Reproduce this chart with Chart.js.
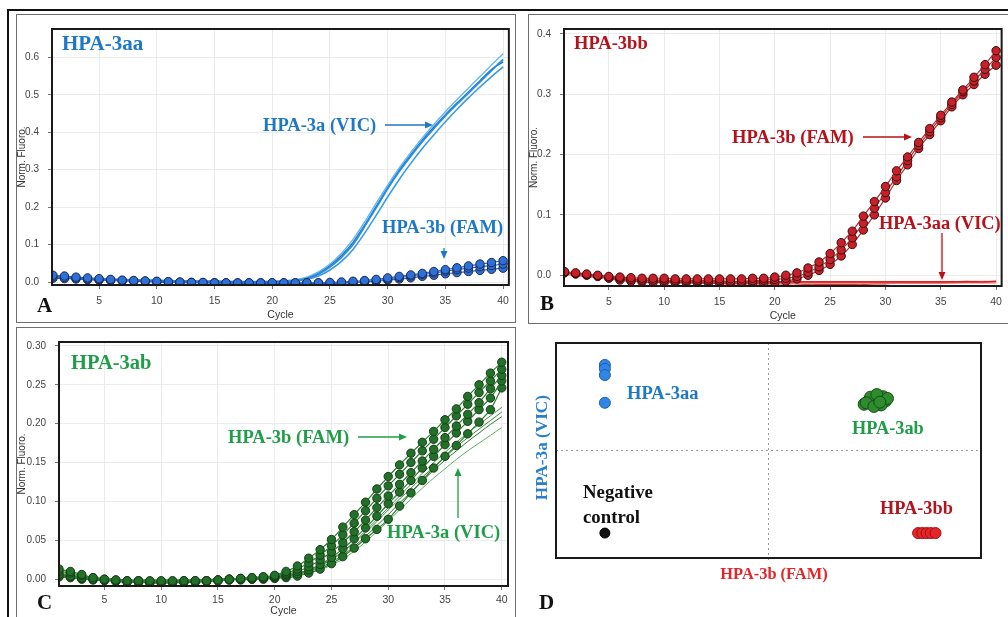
<!DOCTYPE html>
<html>
<head>
<meta charset="utf-8">
<script src="https://cdn.jsdelivr.net/npm/chart.js@4.4.0/dist/chart.umd.min.js"></script>
<style>
  body { margin: 0; background: #fff; }
  #page { position: relative; width: 1008px; height: 617px; overflow: hidden; background: #fff; }
  .box { position: absolute; box-sizing: border-box; }
  .wrap { position: absolute; }
  .lbl { position: absolute; white-space: nowrap; font-family: "Liberation Serif", "Times New Roman", serif; font-weight: bold; line-height: 1; }
  svg { position: absolute; left: 0; top: 0; }
</style>
</head>
<body>
<div id="page">
  <div class="box" style="left:7px;top:9px;width:1010px;height:620px;border:2px solid #111;"></div>
  <div class="box" style="left:16px;top:14px;width:500px;height:309px;border:1.5px solid #6e6e6e;"></div>
  <div class="box" style="left:528px;top:14px;width:490px;height:310px;border:1.5px solid #6e6e6e;"></div>
  <div class="box" style="left:16px;top:327px;width:500px;height:300px;border:1.5px solid #6e6e6e;"></div>

  <div class="wrap" style="left:16px;top:14px;width:499px;height:308px;"><canvas id="chartA"></canvas></div>
  <div class="wrap" style="left:528px;top:14px;width:480px;height:309px;"><canvas id="chartB"></canvas></div>
  <div class="wrap" style="left:16px;top:327px;width:499px;height:290px;"><canvas id="chartC"></canvas></div>
  <div class="wrap" style="left:528px;top:327px;width:480px;height:290px;"><canvas id="chartD"></canvas></div>

  <svg width="1008" height="617" id="arrows"></svg>
</div>

<script>
// ---- datos: ciclos y ejes ----
const cycles = [1,2,3,4,5,6,7,8,9,10,11,12,13,14,15,16,17,18,19,20,21,22,23,24,25,26,27,28,29,30,31,32,33,34,35,36,37,38,39,40];
const cycleTicks = [5,10,15,20,25,30,35,40];
const ticksA = [0,0.1,0.2,0.3,0.4,0.5,0.6];
const ticksB = [0,0.1,0.2,0.3,0.4];
const ticksC = [0,0.05,0.10,0.15,0.20,0.25,0.30];

// ---- panel A: HPA-3aa ----
const aVic1 = [0.014,0.012,0.011,0.009,0.008,0.007,0.006,0.005,0.004,0.004,0.003,0.003,0.002,0.002,0.002,0.001,0.001,0.001,0.001,0.001,0.002,0.004,0.009,0.021,0.040,0.066,0.100,0.148,0.198,0.249,0.295,0.336,0.375,0.410,0.444,0.475,0.505,0.535,0.565,0.595];
const aVic2 = [0.016,0.014,0.012,0.010,0.009,0.008,0.007,0.006,0.005,0.004,0.004,0.003,0.003,0.002,0.002,0.002,0.001,0.001,0.001,0.002,0.003,0.006,0.013,0.027,0.048,0.077,0.114,0.160,0.210,0.259,0.305,0.346,0.385,0.421,0.455,0.487,0.518,0.549,0.580,0.610];
const aVic3 = [0.012,0.011,0.009,0.008,0.007,0.006,0.005,0.004,0.004,0.003,0.003,0.002,0.002,0.001,0.001,0.001,0.000,0.000,0.000,0.000,0.001,0.003,0.007,0.016,0.032,0.055,0.087,0.130,0.178,0.227,0.274,0.317,0.357,0.393,0.428,0.461,0.492,0.521,0.549,0.575];
const aVic4 = [0.015,0.013,0.011,0.010,0.008,0.007,0.006,0.005,0.005,0.004,0.003,0.003,0.002,0.002,0.001,0.001,0.001,0.001,0.001,0.001,0.002,0.005,0.011,0.024,0.044,0.071,0.106,0.152,0.202,0.252,0.299,0.340,0.379,0.414,0.447,0.478,0.508,0.538,0.568,0.588];
const aFam1 = [0.018,0.016,0.013,0.011,0.009,0.007,0.005,0.004,0.003,0.002,0.001,0.000,-0.001,-0.001,-0.002,-0.002,-0.002,-0.002,-0.002,-0.002,-0.002,-0.002,-0.002,-0.002,-0.001,0.000,0.002,0.004,0.007,0.011,0.015,0.019,0.023,0.028,0.033,0.038,0.043,0.048,0.052,0.057];
const aFam2 = [0.014,0.012,0.010,0.008,0.007,0.005,0.004,0.003,0.002,0.001,0.000,-0.001,-0.001,-0.002,-0.002,-0.003,-0.003,-0.003,-0.003,-0.003,-0.003,-0.003,-0.003,-0.003,-0.003,-0.002,-0.001,0.001,0.004,0.008,0.012,0.016,0.020,0.024,0.029,0.033,0.037,0.041,0.044,0.048];
const aFam3 = [0.010,0.009,0.008,0.006,0.005,0.004,0.003,0.002,0.001,0.000,-0.001,-0.001,-0.002,-0.002,-0.003,-0.003,-0.003,-0.003,-0.003,-0.003,-0.003,-0.004,-0.004,-0.004,-0.004,-0.003,-0.002,0.000,0.002,0.005,0.008,0.011,0.015,0.018,0.022,0.025,0.028,0.031,0.034,0.037];

// ---- panel B: HPA-3bb ----
const bFam1 = [0.006,0.004,0.002,0.000,-0.002,-0.003,-0.004,-0.005,-0.005,-0.005,-0.006,-0.006,-0.006,-0.006,-0.006,-0.006,-0.006,-0.005,-0.005,-0.003,0.000,0.004,0.012,0.022,0.036,0.054,0.073,0.098,0.122,0.147,0.173,0.196,0.220,0.243,0.265,0.287,0.307,0.328,0.349,0.372];
const bFam2 = [0.005,0.003,0.001,-0.001,-0.003,-0.005,-0.007,-0.008,-0.008,-0.008,-0.009,-0.009,-0.009,-0.009,-0.009,-0.010,-0.010,-0.009,-0.008,-0.007,-0.005,-0.002,0.005,0.014,0.026,0.042,0.062,0.086,0.111,0.137,0.163,0.190,0.215,0.238,0.261,0.283,0.304,0.322,0.341,0.361];
const bFam3 = [0.004,0.002,0.000,-0.002,-0.005,-0.008,-0.010,-0.011,-0.012,-0.012,-0.012,-0.012,-0.012,-0.013,-0.013,-0.013,-0.013,-0.013,-0.013,-0.012,-0.010,-0.006,0.000,0.008,0.018,0.032,0.051,0.075,0.100,0.128,0.157,0.183,0.210,0.233,0.256,0.279,0.299,0.316,0.333,0.348];
const bVic1 = [0.004,0.002,0.000,-0.002,-0.004,-0.006,-0.007,-0.008,-0.009,-0.010,-0.010,-0.010,-0.011,-0.011,-0.011,-0.011,-0.011,-0.011,-0.011,-0.011,-0.011,-0.011,-0.011,-0.011,-0.011,-0.011,-0.011,-0.011,-0.011,-0.011,-0.011,-0.011,-0.011,-0.011,-0.011,-0.011,-0.011,-0.011,-0.011,-0.010];
const bVic2 = [0.003,0.001,-0.001,-0.003,-0.005,-0.007,-0.008,-0.009,-0.010,-0.011,-0.011,-0.012,-0.012,-0.012,-0.012,-0.012,-0.012,-0.012,-0.012,-0.012,-0.012,-0.012,-0.013,-0.013,-0.013,-0.013,-0.013,-0.013,-0.012,-0.012,-0.012,-0.012,-0.012,-0.012,-0.012,-0.012,-0.011,-0.011,-0.011,-0.011];
const bVic3 = [0.002,0.000,-0.002,-0.004,-0.006,-0.008,-0.009,-0.010,-0.011,-0.012,-0.012,-0.013,-0.013,-0.013,-0.014,-0.014,-0.014,-0.014,-0.014,-0.014,-0.014,-0.014,-0.015,-0.015,-0.015,-0.015,-0.015,-0.015,-0.014,-0.014,-0.013,-0.013,-0.013,-0.013,-0.013,-0.012,-0.012,-0.012,-0.012,-0.012];

// ---- panel C: HPA-3ab ----
const cFam1 = [0.013,0.010,0.006,0.002,0.000,-0.001,-0.002,-0.002,-0.002,-0.002,-0.002,-0.002,-0.002,-0.002,-0.001,0.000,0.001,0.002,0.003,0.005,0.010,0.017,0.027,0.038,0.051,0.067,0.083,0.099,0.116,0.132,0.147,0.162,0.176,0.190,0.205,0.219,0.235,0.250,0.265,0.279];
const cFam2 = [0.010,0.008,0.005,0.002,0.000,-0.001,-0.002,-0.002,-0.003,-0.003,-0.003,-0.002,-0.002,-0.002,-0.001,0.000,0.001,0.002,0.003,0.004,0.008,0.013,0.021,0.031,0.043,0.057,0.072,0.088,0.104,0.120,0.135,0.150,0.165,0.180,0.195,0.210,0.225,0.240,0.255,0.270];
const cFam3 = [0.006,0.004,0.002,0.000,-0.001,-0.002,-0.003,-0.003,-0.003,-0.003,-0.003,-0.003,-0.003,-0.002,-0.001,0.000,0.000,0.001,0.002,0.003,0.006,0.010,0.016,0.025,0.035,0.047,0.061,0.076,0.092,0.107,0.122,0.137,0.152,0.167,0.182,0.197,0.212,0.227,0.245,0.262];
const cFam4 = [0.004,0.003,0.001,0.000,-0.001,-0.002,-0.003,-0.004,-0.004,-0.004,-0.004,-0.004,-0.003,-0.003,-0.002,-0.001,0.000,0.000,0.001,0.002,0.004,0.007,0.012,0.019,0.028,0.039,0.052,0.066,0.081,0.097,0.112,0.127,0.143,0.158,0.173,0.188,0.203,0.218,0.233,0.255];
const cFam5 = [0.003,0.002,0.000,-0.001,-0.002,-0.003,-0.004,-0.004,-0.005,-0.005,-0.005,-0.004,-0.004,-0.003,-0.002,-0.001,-0.001,0.000,0.000,0.001,0.002,0.004,0.008,0.013,0.020,0.029,0.040,0.052,0.064,0.077,0.094,0.111,0.127,0.143,0.158,0.172,0.187,0.202,0.218,0.246];
const cVic1 = [0.008,0.006,0.004,0.002,0.001,0.000,-0.001,-0.001,-0.001,-0.001,-0.001,-0.001,-0.001,-0.001,0.000,0.000,0.001,0.001,0.002,0.003,0.005,0.008,0.012,0.018,0.026,0.036,0.048,0.062,0.077,0.092,0.107,0.122,0.136,0.150,0.163,0.176,0.188,0.199,0.210,0.221];
const cVic2 = [0.006,0.005,0.003,0.001,0.000,-0.001,-0.001,-0.002,-0.002,-0.002,-0.002,-0.002,-0.001,-0.001,0.000,0.000,0.000,0.001,0.002,0.003,0.004,0.006,0.010,0.015,0.022,0.031,0.042,0.055,0.069,0.083,0.098,0.112,0.126,0.140,0.153,0.165,0.177,0.188,0.199,0.209];
const cVic3 = [0.005,0.004,0.002,0.001,0.000,-0.001,-0.002,-0.002,-0.002,-0.002,-0.002,-0.002,-0.002,-0.001,-0.001,0.000,0.000,0.001,0.001,0.002,0.003,0.005,0.008,0.012,0.018,0.026,0.036,0.048,0.061,0.075,0.089,0.103,0.117,0.130,0.142,0.154,0.165,0.175,0.185,0.195];
const cVic4 = [0.007,0.005,0.003,0.002,0.001,0.000,-0.001,-0.001,-0.001,-0.001,-0.001,-0.001,-0.001,0.000,0.000,0.001,0.001,0.002,0.002,0.003,0.005,0.007,0.011,0.017,0.025,0.035,0.047,0.060,0.074,0.089,0.103,0.117,0.131,0.144,0.157,0.170,0.182,0.193,0.204,0.215];

// ---- panel D: discriminación alélica (escala relativa 0-1) ----
const dAaX = [0.115,0.115,0.115,0.115];
const dAaY = [0.898,0.880,0.851,0.722];
const dAbX = [0.725,0.735,0.745,0.750,0.760,0.770,0.775,0.765,0.740,0.755,0.780,0.730,0.748,0.762];
const dAbY = [0.715,0.730,0.720,0.740,0.735,0.750,0.730,0.712,0.748,0.760,0.742,0.722,0.705,0.725];
const dBbX = [0.852,0.862,0.872,0.882,0.893];
const dBbY = [0.116,0.116,0.116,0.116,0.116];
const dNegX = [0.115];
const dNegY = [0.116];

// ===== helpers =====
const TICKFONT = "'Liberation Sans Narrow', 'Liberation Sans', sans-serif";

const frame = {
  id: 'frame',
  afterDatasetsDraw(chart) {
    const a = chart.chartArea, ctx = chart.ctx;
    ctx.save();
    ctx.strokeStyle = '#1a1a1a';
    ctx.lineWidth = 2;
    ctx.strokeRect(a.left, a.top, a.right - a.left, a.bottom - a.top);
    ctx.restore();
  }
};

function curve(data, color, width) {
  return { data, borderColor: color, borderWidth: width, pointRadius: 0, tension: 0.3, fill: false };
}
function dots(data, fill, edge, line) {
  return { data, borderColor: line, borderWidth: 1.2, pointRadius: 4.2, pointBackgroundColor: fill,
           pointBorderColor: edge, pointBorderWidth: 1, tension: 0.3, fill: false };
}

// gráfico de amplificación (ciclo vs fluorescencia normalizada)
function pcrChart(id, sets, o) {
  return new Chart(document.getElementById(id), {
    type: 'line',
    data: { labels: cycles, datasets: sets },
    plugins: [frame],
    options: {
      responsive: true, maintainAspectRatio: false, animation: false,
      layout: { padding: { top: o.top, right: o.right, left: 0, bottom: 0 } },
      plugins: { legend: { display: false }, tooltip: { enabled: false } },
      scales: {
        x: {
          type: 'linear', min: o.xmin, max: o.xmax,
          afterBuildTicks: s => { s.ticks = cycleTicks.map(v => ({ value: v })); },
          afterFit: s => { s.height = o.xh; },
          grid: { color: '#ececec', tickColor: '#777', tickLength: 4 },
          border: { display: false },
          ticks: { color: '#444', font: { family: TICKFONT, size: 10.5 }, padding: o.xpad, maxRotation: 0 },
          title: { display: true, text: 'Cycle', color: '#333', font: { family: TICKFONT, size: 10.5 }, padding: { top: 0, bottom: o.tpad } }
        },
        y: {
          min: o.ymin, max: o.ymax,
          afterBuildTicks: s => { s.ticks = o.yticks.map(v => ({ value: v })); },
          afterFit: s => { s.width = o.yw; },
          grid: { color: '#ececec', tickColor: '#777', tickLength: 4 },
          border: { display: false },
          ticks: { color: '#444', font: { family: TICKFONT, size: 10 }, padding: 9,
                   callback: v => v.toFixed(o.dec) },
          title: { display: true, text: 'Norm. Fluoro.', color: '#333', font: { family: TICKFONT, size: 10 }, padding: { top: 0, bottom: 0 } }
        }
      }
    }
  });
}

// ===== GRAFICO A =====
pcrChart('chartA', [
  dots(aFam1, '#2f70d8', '#1b2a55', '#2a66c9'),
  dots(aFam2, '#2f70d8', '#1b2a55', '#2a66c9'),
  dots(aFam3, '#2f70d8', '#1b2a55', '#2a66c9'),
  curve(aVic1, '#2a8ede', 1.8),
  curve(aVic2, '#6ab6ea', 1.4),
  curve(aVic3, '#3a9ae2', 1.6),
  curve(aVic4, '#1c74c0', 1.4)
], { top: 9, right: 6, xmin: 0.92, xmax: 40.5, xh: 37, xpad: 6, tpad: 1,
     ymin: -0.008, ymax: 0.676, yticks: ticksA, yw: 36, dec: 1 });

// ===== GRAFICO B =====
pcrChart('chartB', [
  dots(bFam1, '#c8202a', '#3a0a0a', '#b03030'),
  dots(bFam2, '#c8202a', '#3a0a0a', '#b03030'),
  dots(bFam3, '#c8202a', '#3a0a0a', '#b03030'),
  curve(bVic1, '#e02020', 1.6),
  curve(bVic2, '#ec8a8a', 2.5),
  curve(bVic3, '#d41818', 1.4)
], { top: 9, right: 3, xmin: 0.95, xmax: 40.5, xh: 37, xpad: 6, tpad: 1,
     ymin: -0.0178, ymax: 0.408, yticks: ticksB, yw: 36, dec: 1 });

// ===== GRAFICO C =====
pcrChart('chartC', [
  dots(cFam1, '#22702a', '#153d15', '#2d7d2d'),
  dots(cFam2, '#22702a', '#153d15', '#2d7d2d'),
  dots(cFam3, '#22702a', '#153d15', '#2d7d2d'),
  dots(cFam4, '#22702a', '#153d15', '#2d7d2d'),
  dots(cFam5, '#22702a', '#153d15', '#2d7d2d'),
  curve(cVic1, '#3c963c', 1),
  curve(cVic2, '#2a7a2a', 1),
  curve(cVic3, '#5cae5c', 1),
  curve(cVic4, '#3a8a3a', 1)
], { top: 8, right: 7, xmin: 1, xmax: 40.55, xh: 31, xpad: 4, tpad: 0,
     ymin: -0.00875, ymax: 0.305, yticks: ticksC, yw: 43, dec: 2 });

// ===== GRAFICO D: dispersión =====
const cross = {
  id: 'cross',
  beforeDatasetsDraw(chart) {
    const ctx = chart.ctx, a = chart.chartArea;
    const px = chart.scales.x.getPixelForValue(0.5);
    const py = chart.scales.y.getPixelForValue(0.5);
    ctx.save();
    ctx.strokeStyle = '#9a9a9a';
    ctx.lineWidth = 1;
    ctx.setLineDash([2, 3]);
    ctx.beginPath();
    ctx.moveTo(px, a.top); ctx.lineTo(px, a.bottom + 4);
    ctx.moveTo(a.left, py); ctx.lineTo(a.right, py);
    ctx.stroke();
    ctx.restore();
  }
};
const pts = (xs, ys) => xs.map((x, i) => ({ x, y: ys[i] }));
new Chart(document.getElementById('chartD'), {
  type: 'scatter',
  data: {
    datasets: [
      { data: pts(dAaX, dAaY), pointRadius: 5.5, backgroundColor: '#2f86e6', borderColor: '#1f5fae', borderWidth: 1 },
      { data: pts(dAbX, dAbY), pointRadius: 6, backgroundColor: '#2e8b2e', borderColor: '#174f17', borderWidth: 1 },
      { data: pts(dBbX, dBbY), pointRadius: 5.5, backgroundColor: '#e5262b', borderColor: '#a01010', borderWidth: 1 },
      { data: pts(dNegX, dNegY), pointRadius: 5, backgroundColor: '#111', borderColor: '#000', borderWidth: 1 }
    ]
  },
  plugins: [cross, frame],
  options: {
    responsive: true, maintainAspectRatio: false, animation: false,
    layout: { padding: { left: 28, top: 16, right: 27, bottom: 59 } },
    plugins: { legend: { display: false }, tooltip: { enabled: false } },
    scales: {
      x: { display: false, min: 0, max: 1 },
      y: { display: false, min: 0, max: 1 }
    }
  }
});

// ===== textos (etiquetas y letras de panel) =====
const BLUE = '#1e78c6', RED = '#b5121b', GREEN = '#1f9d48';
const notes = [
  ['HPA-3aa', 62, 43, 21, BLUE], ['HPA-3a (VIC)', 263, 125, 18.5, BLUE], ['HPA-3b (FAM)', 382, 227, 18.5, BLUE],
  ['HPA-3bb', 574, 43, 18.5, RED], ['HPA-3b (FAM)', 732, 137, 18.6, RED], ['HPA-3aa (VIC)', 879, 223, 18.4, RED],
  ['HPA-3ab', 71, 362, 20.5, GREEN], ['HPA-3b (FAM)', 228, 437, 18.5, GREEN], ['HPA-3a (VIC)', 387, 532, 18.5, GREEN],
  ['HPA-3aa', 627, 393, 18.5, '#2079c5'], ['HPA-3ab', 852, 428, 18.3, GREEN], ['HPA-3bb', 880, 508, 18.3, RED],
  ['Negative', 583, 492, 18.8, '#111'], ['control', 583, 517, 18.8, '#111'],
  ['A', 37, 305, 21, '#111'], ['B', 540, 303, 21, '#111'], ['C', 37, 602, 21, '#111'], ['D', 539, 602, 21, '#111']
];
const page = document.getElementById('page');
function addLabel(text, x, cy, size, color, extra) {
  const d = document.createElement('div');
  d.className = 'lbl';
  d.textContent = text;
  d.style.left = x + 'px';
  d.style.top = (cy - size * 0.5) + 'px';
  d.style.fontSize = size + 'px';
  d.style.color = color;
  if (extra) d.style.transform = extra;
  page.appendChild(d);
  return d;
}
notes.forEach(n => addLabel(...n));
// títulos de ejes del panel D
addLabel('HPA-3b (FAM)', 774, 574, 16.4, '#e0262b', 'translateX(-50%)');
const yt = addLabel('HPA-3a (VIC)', 542, 448, 17.2, '#2a7fc8', 'translate(-50%, 0) rotate(-90deg)');
yt.style.transformOrigin = '50% 50%';

// ===== flechas =====
const arrows = [
  [385, 125, 433, 125, BLUE], [444, 248, 444, 259, BLUE],
  [863, 137, 912, 137, RED], [942, 233, 942, 280, RED],
  [358, 437, 407, 437, GREEN], [458, 518, 458, 468, GREEN]
];
const svg = document.getElementById('arrows');
let s = '';
arrows.forEach(([x1, y1, x2, y2, c]) => {
  const ang = Math.atan2(y2 - y1, x2 - x1), L = 8, W = 3.5;
  const bx = x2 - L * Math.cos(ang), by = y2 - L * Math.sin(ang);
  const nx = -Math.sin(ang) * W, ny = Math.cos(ang) * W;
  s += `<line x1="${x1}" y1="${y1}" x2="${bx}" y2="${by}" stroke="${c}" stroke-width="1.3"/>`;
  s += `<polygon points="${x2},${y2} ${bx + nx},${by + ny} ${bx - nx},${by - ny}" fill="${c}"/>`;
});
svg.innerHTML = s;
</script>
</body>
</html>
